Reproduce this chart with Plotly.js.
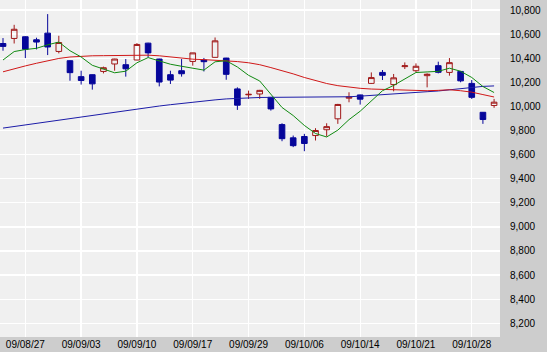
<!DOCTYPE html>
<html>
<head>
<meta charset="utf-8">
<script src="https://cdn.plot.ly/plotly-3.0.1.min.js"></script>
<style>
html,body{margin:0;padding:0;background:#cdcdcd;}
#chart{width:547px;height:352px;}
</style>
</head>
<body>
<div id="chart"></div>
<script>
// Trading days (yy/mm/dd)
var dates = ["09/08/25","09/08/26","09/08/27","09/08/28","09/08/31","09/09/01","09/09/02","09/09/03","09/09/04","09/09/07",
  "09/09/08","09/09/09","09/09/10","09/09/11","09/09/14","09/09/15","09/09/16","09/09/17","09/09/18","09/09/24",
  "09/09/25","09/09/28","09/09/29","09/09/30","09/10/01","09/10/02","09/10/05","09/10/06","09/10/07","09/10/08",
  "09/10/09","09/10/13","09/10/14","09/10/15","09/10/16","09/10/19","09/10/20","09/10/21","09/10/22","09/10/23",
  "09/10/26","09/10/27","09/10/28","09/10/29","09/10/30"];

var openP  = [10522,10564,10578,10553,10608,10456,10379,10247,10263,10290,
  10352,10346,10385,10525,10393,10263,10296,10373,10385,10407,
  10401,10145,10096,10103,10075,9849,9739,9750,9758,9806,
  9897,10068,10095,10191,10282,10181,10330,10296,10255,10338,
  10282,10290,10191,9951,10007];
var highP  = [10567,10677,10582,10570,10766,10586,10382,10296,10265,10330,
  10395,10393,10525,10528,10395,10296,10393,10445,10402,10572,
  10403,10158,10131,10137,10077,9860,9758,9772,9819,9860,
  10021,10117,10097,10282,10302,10269,10365,10357,10274,10371,
  10401,10292,10219,9953,10062];
var lowP   = [10462,10522,10401,10473,10426,10440,10213,10181,10139,10274,
  10296,10247,10383,10407,10166,10186,10247,10338,10290,10405,
  10221,9971,10062,10062,9965,9711,9662,9628,9717,9750,
  9855,10034,10015,10186,10219,10125,10310,10282,10158,10274,
  10255,10200,10062,9855,9988];
var closeP = [10498,10640,10474,10534,10493,10530,10280,10215,10187,10321,
  10393,10312,10514,10444,10202,10218,10271,10444,10371,10544,
  10266,10010,10100,10133,9979,9732,9674,9692,9800,9832,
  10016,10077,10060,10239,10258,10237,10337,10333,10267,10283,
  10363,10212,10075,9891,10035];

// Moving averages
var maShort = [10385,10455,10472,10482,10511,10534,10462,10410,10341,10307,
  10279,10292,10362,10405,10380,10350,10333,10318,10301,10370,
  10379,10327,10258,10211,10098,9991,9924,9842,9775,9746,
  9803,9890,9960,10045,10130,10174,10226,10281,10286,10291,
  10317,10292,10240,10165,10115];
var maMid = [10287,10313,10336,10358,10378,10398,10410,10418,10420,10421,
  10422,10424,10426,10425,10420,10410,10400,10392,10388,10384,
  10378,10372,10362,10346,10322,10298,10270,10240,10214,10190,
  10172,10158,10150,10144,10140,10137,10135,10133,10130,10133,
  10138,10130,10118,10098,10078];
var maLong = [9820,9833,9847,9860,9874,9888,9902,9916,9930,9943,
  9956,9968,9980,9992,10003,10014,10025,10035,10045,10054,
  10062,10068,10072,10074,10075,10075,10076,10076,10076,10076,
  10077,10080,10085,10092,10098,10104,10110,10116,10122,10128,
  10137,10148,10160,10166,10170];

var xTickVals = ["09/08/27","09/09/03","09/09/10","09/09/17","09/09/29","09/10/06","09/10/14","09/10/21","09/10/28"];
var yTickVals = [8200,8400,8600,8800,9000,9200,9400,9600,9800,10000,10200,10400,10600,10800];
var yTickText = ["8,200","8,400","8,600","8,800","9,000","9,200","9,400","9,600","9,800","10,000","10,200","10,400","10,600","10,800"];

var traces = [
  {type:'scatter', mode:'lines', x:dates, y:maLong, line:{color:'#1c1ca8', width:1}, hoverinfo:'skip'},
  {type:'scatter', mode:'lines', x:dates, y:maMid, line:{color:'#d01818', width:1}, hoverinfo:'skip'},
  {type:'scatter', mode:'lines', x:dates, y:maShort, line:{color:'#108a10', width:1}, hoverinfo:'skip'},
  {type:'candlestick', x:dates, open:openP, high:highP, low:lowP, close:closeP,
    whiskerwidth:0,
    increasing:{line:{color:'#a01818', width:1}, fillcolor:'rgba(0,0,0,0)'},
    decreasing:{line:{color:'#06069a', width:1}, fillcolor:'#06069a'},
    hoverinfo:'skip'}
];

var layout = {
  width:547, height:352,
  margin:{l:0, r:47, t:0, b:15, pad:0},
  paper_bgcolor:'#cdcdcd',
  plot_bgcolor:'#f0f0f0',
  showlegend:false,
  boxgap:0.28,
  font:{family:'Liberation Sans, Arial, sans-serif', size:10, color:'#000'},
  xaxis:{type:'category', range:[-0.27, 44.53], tickmode:'array', tickvals:xTickVals,
    ticktext:xTickVals, showgrid:true, gridcolor:'#ffffff', gridwidth:1.3,
    ticks:'', showline:false, zeroline:false, rangeslider:{visible:false},
    tickfont:{family:'Liberation Sans, Arial, sans-serif', size:10, color:'#000'}},
  yaxis:{side:'right', range:[8086, 10883], tickmode:'array', tickvals:yTickVals, ticktext:yTickText,
    showgrid:true, gridcolor:'#ffffff', gridwidth:1.3, ticks:'', zeroline:false, showline:false,
    ticklabelstandoff:9,
    tickfont:{family:'Liberation Sans, Arial, sans-serif', size:10, color:'#000'}}
};

Plotly.newPlot('chart', traces, layout, {staticPlot:true, displayModeBar:false});
</script>
</body>
</html>
